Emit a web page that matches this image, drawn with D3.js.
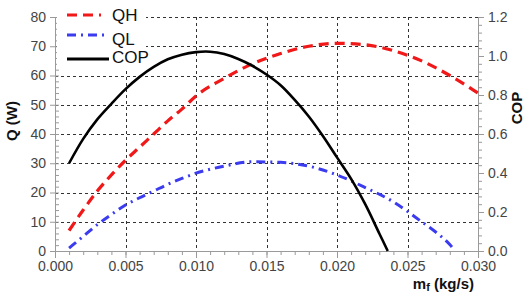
<!DOCTYPE html>
<html>
<head>
<meta charset="utf-8"/>
<title>Q and COP vs mf</title>
<style>
  body { margin: 0; background: #fff; }
  svg text { font-family: "Liberation Sans", Arial, sans-serif; }
</style>
</head>
<body>
<div id="graph"></div>
<script src="https://cdn.jsdelivr.net/npm/d3@7"></script>
<script>
// mass flow (kg/s) and read-off values
var qhX = [0.001,0.002,0.003,0.004,0.005,0.006,0.007,0.008,0.009,0.010,0.012,0.014,0.016,0.018,0.020,0.022,0.024,0.026,0.028,0.030];
var qhY = [7,14,20.5,26,31,35.5,40,44.5,48.5,53,59,64,67.5,70,71,70.5,68.5,65,60,54];

var qlX = [0.001,0.002,0.003,0.004,0.005,0.006,0.007,0.008,0.009,0.010,0.012,0.014,0.016,0.018,0.020,0.022,0.024,0.026,0.027,0.028,0.0283];
var qlY = [1,5,9,12.5,15.7,18.2,20.5,22.8,24.8,26.6,29,30.5,30.3,29,26,21.7,16.8,10,6.5,2.2,0.5];

var copX = [0.001,0.002,0.003,0.004,0.005,0.006,0.007,0.008,0.009,0.010,0.011,0.012,0.013,0.014,0.015,0.016,0.017,0.018,0.019,0.020,0.021,0.022,0.023,0.0236];
var copY = [0.45,0.575,0.675,0.755,0.83,0.893,0.944,0.983,1.007,1.02,1.022,1.01,0.985,0.95,0.905,0.85,0.775,0.69,0.59,0.48,0.37,0.24,0.09,0];

var xTicks = [0,0.005,0.010,0.015,0.020,0.025,0.030];
var qTicks = [0,10,20,30,40,50,60,70,80];
var copTicks = [0,0.2,0.4,0.6,0.8,1.0,1.2];

var W = 525, H = 294;
var margin = {top: 17, right: 47, bottom: 43, left: 55};
var width = W - margin.left - margin.right,
    height = H - margin.top - margin.bottom;

var x = d3.scaleLinear().domain([0, 0.030]).range([0, width]);
var y = d3.scaleLinear().domain([0, 80]).range([height, 0]);
var y2 = d3.scaleLinear().domain([0, 1.2]).range([height, 0]);

var svg = d3.select("#graph").append("svg")
    .attr("width", W).attr("height", H)
    .append("g")
    .attr("transform", "translate(" + margin.left + "," + margin.top + ")");

var axisCol = "#9a9a9a", textCol = "#444";

// grid
var grid = svg.append("g").attr("stroke", "#333").attr("stroke-width", 1).attr("stroke-dasharray", "3,3");
grid.selectAll(".hg").data(qTicks.slice(1)).enter().append("line")
    .attr("x1", 0).attr("x2", width)
    .attr("y1", function(d) { return Math.round(y(d)) + 0.5; })
    .attr("y2", function(d) { return Math.round(y(d)) + 0.5; });
grid.selectAll(".vg").data(xTicks.slice(1, -1)).enter().append("line")
    .attr("y1", 0).attr("y2", height)
    .attr("x1", function(d) { return Math.round(x(d)) + 0.5; })
    .attr("x2", function(d) { return Math.round(x(d)) + 0.5; });

// axes
function styleAxis(g) {
  g.select(".domain").attr("stroke", axisCol);
  g.selectAll(".tick line").attr("stroke", axisCol);
  g.selectAll("text").attr("fill", textCol).style("font-size", "14px");
}
var minorX = d3.range(0, 0.0305, 0.001);
svg.append("g").attr("transform", "translate(0," + height + ")")
    .call(d3.axisBottom(x).tickValues(minorX).tickSize(4).tickFormat(""))
    .call(styleAxis);
svg.append("g").attr("transform", "translate(0," + height + ")")
    .call(d3.axisBottom(x).tickValues(xTicks).tickSize(7).tickPadding(3).tickFormat(d3.format(".3f")))
    .call(styleAxis);

svg.append("g")
    .call(d3.axisRight(y).tickValues(d3.range(0, 81, 2)).tickSize(4).tickFormat(""))
    .call(styleAxis);
svg.append("g")
    .call(d3.axisLeft(y).tickValues(qTicks).tickSize(5).tickPadding(4))
    .call(styleAxis);

svg.append("g").attr("transform", "translate(" + width + ",0)")
    .call(d3.axisRight(y2).tickValues(d3.range(0, 1.21, 0.04)).tickSize(4).tickFormat(""))
    .call(styleAxis);
svg.append("g").attr("transform", "translate(" + width + ",0)")
    .call(d3.axisRight(y2).tickValues(copTicks).tickSize(6).tickPadding(4).tickFormat(d3.format(".1f")))
    .call(styleAxis);

// legend box (sits behind the curves)
var legend = svg.append("g").attr("transform", "translate(0,-17)");
legend.append("rect").attr("x", 2).attr("y", 2).attr("width", 89).attr("height", 66).attr("fill", "#fff");

// curves
var lineQ = d3.line().curve(d3.curveMonotoneX)
    .x(function(d) { return x(d[0]); }).y(function(d) { return y(d[1]); });
var lineC = d3.line().curve(d3.curveCatmullRom)
    .x(function(d) { return x(d[0]); }).y(function(d) { return y2(d[1]); });

svg.append("path").datum(d3.zip(qlX, qlY)).attr("d", lineQ)
    .attr("fill", "none").attr("stroke", "#3b3bf0").attr("stroke-width", 3)
    .attr("stroke-dasharray", "9,5,2,5");
svg.append("path").datum(d3.zip(qhX, qhY)).attr("d", lineQ)
    .attr("fill", "none").attr("stroke", "#f01818").attr("stroke-width", 3.2)
    .attr("stroke-dasharray", "10,6");
svg.append("path").datum(d3.zip(copX, copY)).attr("d", lineC)
    .attr("fill", "none").attr("stroke", "#000").attr("stroke-width", 2.6);

// legend entries
var legItems = [
  {name: "QH", color: "#f01818", dash: "10,6", w: 3.2, len: 34},
  {name: "QL", color: "#3b3bf0", dash: "9,5,2,5", w: 3, len: 42},
  {name: "COP", color: "#000", dash: null, w: 2.8, len: 42}
];
var legLineY = [15, 35, 59], legTextY = [15, 39, 57];
legItems.forEach(function(d, i) {
  legend.append("line").attr("x1", 12).attr("x2", 12 + d.len)
      .attr("y1", legLineY[i]).attr("y2", legLineY[i])
      .attr("stroke", d.color).attr("stroke-width", d.w)
      .attr("stroke-dasharray", d.dash);
  legend.append("text").attr("x", 57).attr("y", legTextY[i]).attr("dy", "0.36em")
      .attr("fill", "#111").style("font-size", "17px").text(d.name);
});

// axis titles
svg.append("text").attr("transform", "translate(-38," + (height / 2 - 13) + ") rotate(-90)")
    .attr("text-anchor", "middle").attr("fill", "#111")
    .style("font-size", "15px").style("font-weight", "bold").text("Q (W)");
svg.append("text").attr("transform", "translate(" + (width + 44) + "," + (height / 2 - 26) + ") rotate(-90)")
    .attr("text-anchor", "middle").attr("fill", "#111")
    .style("font-size", "15px").style("font-weight", "bold").text("COP");
var xl = svg.append("text").attr("x", width - 4).attr("y", height + 38)
    .attr("text-anchor", "end").attr("fill", "#111")
    .style("font-size", "15px").style("font-weight", "bold");
xl.append("tspan").text("m");
xl.append("tspan").attr("dy", 2).style("font-size", "11px").text("f");
xl.append("tspan").attr("dy", -2).text(" (kg/s)");
</script>
</body>
</html>
